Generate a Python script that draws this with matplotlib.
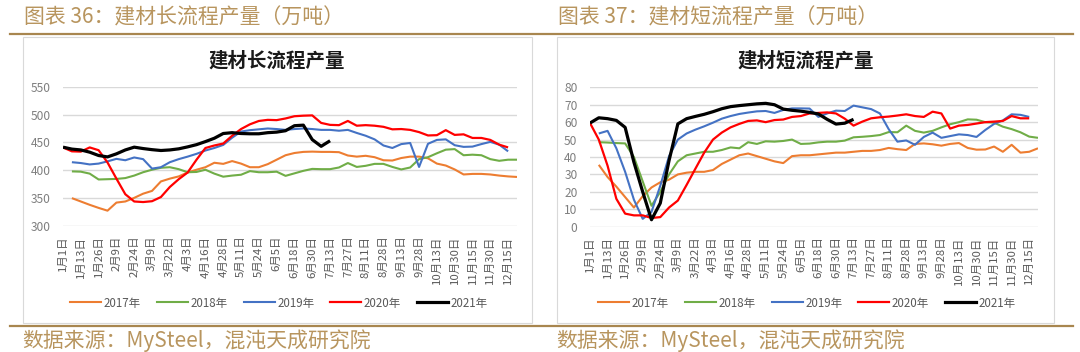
import numpy as np
import matplotlib
matplotlib.use("Agg")
import matplotlib.pyplot as plt
from matplotlib.lines import Line2D
from matplotlib.patches import Rectangle

plt.rcParams["font.family"] = ["Noto Sans CJK SC", "DejaVu Sans"]

W, H = 1080, 352

# --- data ---------------------------------------------------------------
tick_labels = ["1月1日", "1月13日", "1月26日", "2月9日", "2月24日", "3月9日",
               "3月22日", "4月3日", "4月16日", "4月28日", "5月11日", "5月24日",
               "6月5日", "6月18日", "6月30日", "7月13日", "7月27日", "8月11日",
               "8月28日", "9月13日", "9月28日", "10月13日", "10月30日",
               "11月15日", "11月30日", "12月15日"]
n_cat = 52
years = ["2017年", "2018年", "2019年", "2020年", "2021年"]

long_2017 = [None, 350, 344, 338, 332.5, 327.5, 342, 344, 350.5, 358, 363,
             380, 385, 389, 396, 401, 405.5, 413.5, 411.5, 416.5, 412,
             405.5, 405.5, 411, 419, 427, 431, 433, 433.5, 433, 433,
             432.5, 426.5, 424.5, 426, 423.5, 418, 417.5, 422, 424.5, 424.5,
             421.5, 412, 408.5, 401.5, 392.5, 393.5, 393.5, 392.5, 390.5, 389, 388]
long_2018 = [None, 398, 397.5, 394, 383.5, 384, 384.5, 386, 390.5, 396.5, 401,
             404.5, 405.5, 402, 396.5, 397, 401, 394, 388.5, 390.5, 392,
             398.5, 396.5, 396.5, 397.5, 390, 394.5, 399, 402.5, 402, 402,
             405, 413, 406, 408, 411.5, 411.5, 406, 401.5, 405, 420,
             423.5, 430.5, 437, 438, 427, 428, 427, 420, 417, 419, 419]
long_2019 = [None, 414.5, 413, 410.5, 412, 416, 420.5, 418, 423, 420, 403,
             405.5, 414.5, 420, 424.5, 429.5, 435.5, 440, 445.5, 458.5, 469.5,
             472, 473.5, 475, 474, 472.5, 474, 475, 474, 472.5, 472.5,
             471, 472.5, 467, 462, 455.5, 444.5, 440, 447, 449, 406,
             447.5, 454.5, 455.5, 445, 442, 442.5, 447, 451, 446, 434]
long_2020 = [441, 434, 433.5, 441, 436, 414, 385, 357, 344, 343,
             344.5, 352, 370, 384, 396, 419, 440, 444.5, 448, 462,
             474, 482.5, 488.5, 490.5, 490, 493, 497, 498, 498.5, 485,
             481.5, 481, 488.5, 480, 481, 480, 478, 473.5, 474, 472.5,
             468.5, 462.5, 463, 472, 463.5, 464.5, 458, 458, 454.5, 446, 441]
long_2021 = [441.5, 438, 436.5, 432.5, 426.5, 424, 429.5, 436.5, 441.5, 439,
             437, 435.5, 436.5, 438.5, 442, 446, 451.5, 457.5, 466, 467.5,
             466, 465.5, 465.5, 467.5, 468.5, 471, 480, 481, 455, 443, 453]

short_2017 = [None, 35.5, 28.5, 23, 17, 11, 17.5, 22.5, 25.5, 27,
              30, 31, 31.5, 31.5, 32.5, 36, 38.5, 41, 42, 40.5,
              39, 37.5, 36.5, 40.5, 41, 41, 41.5, 42, 42.5, 42.5,
              43, 43.5, 43.5, 44, 45.2, 44.5, 44, 47.5, 47.8, 47.3,
              46.5, 47.5, 48, 45.2, 44.2, 44.3, 46, 43, 47, 42.5,
              43, 45]
short_2018 = [None, 48.5, 48.3, 48, 47.8, 40, 26, 12, 20, 30,
              37.5, 41, 42, 43, 43, 44, 45.5, 45, 48.5, 47.5,
              49, 48.8, 49.2, 50, 47.5, 47.7, 48.4, 48.8, 48.8, 49.4,
              51.3, 51.6, 52, 52.6, 54.3, 54.2, 58, 55, 54, 55,
              57, 58.8, 60, 61.6, 61.4, 60, 59.7, 57.4, 56, 54.2,
              51.7, 51]
short_2019 = [None, 53.5, 55, 45, 31.5, 15.5, 4.5, 8.5, 23.5, 40.5,
              50, 53.5, 55.7, 57.6, 59.7, 62, 63.5, 64.7, 65.5, 66.2,
              66.4, 65.3, 67, 67.9, 67.9, 67.8, 63, 65, 66.6, 66.4,
              69.5, 68.5, 67.5, 65, 56, 48.8, 49.5, 47, 51.5, 54,
              51, 52, 53, 52.6, 51.5, 55.5, 59, 61, 64.5, 64.2,
              63]
short_2020 = [59.5, 50, 35, 16, 7.5, 6.5, 6.5, 5, 5.5, 11,
              15, 24, 33.3, 42.5, 50, 54, 57, 59, 60.7, 61,
              60, 61.2, 61.5, 63, 63.5, 65, 65.3, 65.6, 65, 62,
              58, 60.3, 62.2, 62.8, 63.2, 63.8, 64.5, 63.5, 63, 66,
              65, 56.3, 58, 58.4, 59.2, 60, 60.3, 60.7, 63.5, 62.2,
              62.2]
short_2021 = [59.5, 62.5, 62, 61, 57, 37, 20, 4, 13.5, 38,
              59, 62, 63.3, 64.5, 66, 67.7, 68.9, 69.5, 70, 70.5,
              70.8, 70, 67.5, 66.8, 66.3, 65.6, 64.7, 61.6, 58.9, 59.4,
              61.6]

# --- style --------------------------------------------------------------
colors = ["#ED7D31", "#70AD47", "#4472C4", "#FF0000", "#000000"]
widths = [1.5, 1.5, 1.5, 1.6, 2.3]
gold = "#B8955E"
gold_rule = "#A8864F"
grid_c = "#D9D9D9"


def fx(px):
    return px / W


def fy(py):
    return 1 - py / H


def panel(fig, rect, series, ylim, yticks, title, box, header, legend_cx):
    ax = fig.add_axes(rect)
    for vals, c, lw, lab in zip(series, colors, widths, years):
        y = np.array([np.nan if v is None else v for v in vals], dtype=float)
        ax.plot(np.arange(len(y)), y, color=c, lw=lw, label=lab,
                solid_capstyle="butt", solid_joinstyle="round")
    ax.set_xlim(0, n_cat - 1)
    ax.set_ylim(*ylim)
    ax.set_yticks(yticks)
    ax.yaxis.grid(True, color=grid_c, lw=1.0)
    ax.set_axisbelow(True)
    for s in ax.spines.values():
        s.set_visible(False)
    ax.set_xticks(range(0, n_cat, 2))
    ax.set_xticklabels(tick_labels, rotation=90, fontsize=8.2, color="#595959")
    ax.tick_params(axis="x", length=0, pad=7)
    ax.tick_params(axis="y", length=0, pad=9, labelsize=8.6, labelcolor="#7F7F7F")

    x0, x1 = box
    fig.add_artist(Rectangle((fx(x0), fy(322.8)), fx(x1 - x0), (322.8 - 36.7) / H,
                             transform=fig.transFigure, fill=False,
                             ec=grid_c, lw=0.8))
    fig.text(fx((x0 + x1) / 2), fy(61), title, ha="center", va="center",
             fontsize=14, fontweight="bold", color="#1a1a1a")
    fig.text(fx(x0 + 1), fy(17), header, ha="left", va="center",
             fontsize=15, color=gold)
    fig.text(fx(x0 + 0), fy(341), "数据来源：MySteel，混沌天成研究院",
             ha="left", va="center", fontsize=15, color=gold)

    handles = [Line2D([], [], color=c, lw=lw) for c, lw in zip(colors, widths)]
    fig.legend(handles, years, loc="center", bbox_to_anchor=(fx(legend_cx), fy(303)),
               ncol=5, frameon=False, fontsize=8.3, handlelength=2.7,
               handletextpad=0.2, columnspacing=1.4, labelcolor="#595959")
    return ax


fig = plt.figure(figsize=(W / 100, H / 100), dpi=100, facecolor="white")

panel(fig, [fx(63), fy(226), fx(454), 139.3 / H],
      [long_2017, long_2018, long_2019, long_2020, long_2021],
      (300, 550), range(300, 551, 50), "建材长流程产量",
      (22.7, 531.7), "图表 36：建材长流程产量（万吨）", 279)

panel(fig, [fx(590), fy(226.7), fx(448), 139.4 / H],
      [short_2017, short_2018, short_2019, short_2020, short_2021],
      (0, 80), range(0, 81, 10), "建材短流程产量",
      (556.7, 1054), "图表 37：建材短流程产量（万吨）", 807)

# gold rules above and below both panels
for py in (34, 326):
    fig.add_artist(Line2D([fx(10), fx(1073)], [fy(py), fy(py)],
                          transform=fig.transFigure, color=gold_rule, lw=1.6))

fig.savefig("out.png", dpi=100, facecolor="white")
